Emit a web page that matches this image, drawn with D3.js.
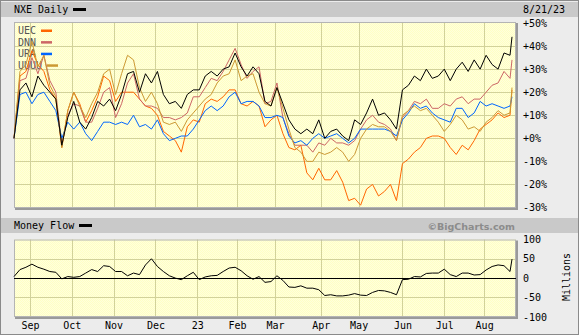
<!DOCTYPE html>
<html>
<head>
<meta charset="utf-8">
<script src="https://cdn.jsdelivr.net/npm/d3@7"></script>
<style>
  body { margin: 0; background: #ececec; }
  svg text { font-family: "DejaVu Sans Mono", monospace; font-size: 10px; fill: #000; }
</style>
</head>
<body>
<svg id="chart" width="579" height="335"></svg>
<script>
// trading-day index of each sample (every 3rd session, plus the last one)
const sampleDays = d3.range(0, 250, 3).concat([250]);

// % change since 8/22/22
const nxe = [0, 21, 24, 18, 27, 23, 20, 17, -3, 9, 16, 7, 4, 9, 16, 14, 17, 12, 19, 28,
  29, 20, 28, 24, 29, 19, 15, 16, 13, 19, 21, 21, 27, 29, 27, 30, 31, 37, 31, 27,
  31, 28, 16, 14, 22, 15, 8, 4, 2, 4, 2, 8, 0, 3, 4, 1, -1, 8, 6, 11,
  17, 10, 11, 8, 4, 21, 23, 27, 25, 30, 26, 27, 30, 25, 30, 33, 29, 34, 30, 36,
  32, 30, 37, 36, 44];
const uec = [0, 27, 29, 38, 32, 29, 21, 17, -4, 12, 20, 15, 7, 12, 18, 27, 25, 16, 20, 20,
  20, 17, 14, 13, 10, 3, 1, -1, -6, 5, 8, 7, 15, 17, 16, 18, 21, 21, 15, 14,
  16, 14, 5, 8, 10, 2, -4, -5, -3, -15, -18, -13, -18, -18, -14, -19, -27, -26, -29, -22,
  -20, -25, -23, -20, -27, -11, -9, -6, -4, 0, 1, 1, 0, -4, -7, -3, -5, -1, 4, 6,
  8, 11, 9, 10, 21];
const dnn = [0, 25, 26, 35, 28, 36, 25, 20, -3, 10, 15, 14, 7, 7, 13, 20, 22, 9, 15, 24,
  28, 17, 14, 14, 13, 9, 9, 8, 9, 11, 18, 18, 22, 26, 25, 29, 34, 39, 32, 26,
  29, 31, 15, 16, 24, 9, 2, -3, -3, -3, -6, -2, -3, 0, -2, -2, -3, -1, 4, 8,
  10, 7, 6, 4, -1, 9, 12, 16, 15, 17, 13, 13, 15, 14, 17, 18, 15, 17, 17, 20,
  23, 24, 29, 26, 34];
const ura = [0, 19, 20, 15, 19, 20, 16, 12, 0, 7, 4, 7, 2, -1, 3, 7, 7, 6, 7, 6,
  10, 5, 6, 4, 8, 2, -1, 0, 1, 1, 4, 8, 12, 14, 12, 14, 18, 20, 15, 16,
  16, 14, 9, 9, 10, 9, 1, -2, -1, -3, 0, 2, 0, 1, 2, 0, -2, 0, 4, 4,
  4, 4, 4, 3, 1, 8, 11, 15, 13, 14, 11, 9, 8, 7, 13, 13, 9, 11, 16, 14,
  15, 14, 13, 14, 18];
const uuuu = [0, 29, 32, 42, 31, 36, 23, 18, -4, 12, 20, 14, 9, 15, 20, 28, 30, 19, 28, 36,
  34, 22, 16, 20, 15, 7, 6, 7, 3, 8, 11, 14, 17, 19, 24, 27, 28, 34, 25, 27,
  28, 20, 15, 14, 22, 13, 4, -4, -6, -10, -10, -6, -7, -6, -4, -6, -10, -7, 0, 4,
  6, 5, 5, 3, -1, 10, 12, 14, 12, 13, 10, 7, 3, 6, 10, 8, 4, 5, 3, 7,
  9, 12, 10, 11, 22];

// money flow, millions
const moneyFlow = [4, 22, 28, 36, 28, 23, 17, 15, -2, 4, 2, 4, 13, 22, 17, 32, 30, 17, 17, 6,
  13, 9, 34, 50, 30, 17, 6, 0, -4, 6, 15, -4, 3, 6, 7, 17, 26, 28, 19, 6,
  -3, 4, -11, -9, 6, -6, -23, -24, -20, -26, -26, -30, -45, -43, -46, -46, -44, -40, -44, -45,
  -37, -32, -33, -37, -43, -4, -3, 4, 3, 12, 13, 13, 23, 9, 4, 13, 13, 8, 9, 21,
  30, 34, 32, 17, 49];

const monthDays = [8, 29, 50, 71, 92, 112, 131, 154, 173, 195, 216, 236];
const monthLabels = ["Sep", "Oct", "Nov", "Dec", "23", "Feb", "Mar", "Apr", "May", "Jun", "Jul", "Aug"];
const pctTicks = [50, 40, 30, 20, 10, 0, -10, -20, -30];
const flowTicks = [100, 50, 0, -50, -100];

const series = [
  { name: "UEC", values: uec, color: "#ff6600" },
  { name: "DNN", values: dnn, color: "#cc6666" },
  { name: "URA", values: ura, color: "#0066ff" },
  { name: "UUUU", values: uuuu, color: "#cc9933" }
];

const svg = d3.select("#chart");
const plot = { left: 14, right: 516 };
const main = { top: 22, bottom: 208 };
const lower = { top: 239.5, bottom: 317 };

const x = d3.scaleLinear().domain([0, 251]).range([14, 514]);
const y = d3.scaleLinear().domain([-30, 50]).range([207.5, 23]);
const yFlow = d3.scaleLinear().domain([-100, 100]).range([316.8, 239.4]);

// dithered yellow fill
const pat = svg.append("defs").append("pattern")
  .attr("id", "dither").attr("width", 2).attr("height", 2)
  .attr("patternUnits", "userSpaceOnUse");
pat.append("rect").attr("width", 2).attr("height", 2).attr("fill", "#ffffdc");
pat.append("rect").attr("width", 1).attr("height", 1).attr("fill", "#ffffc4");
pat.append("rect").attr("x", 1).attr("y", 1).attr("width", 1).attr("height", 1).attr("fill", "#ffffc4");

// frame
svg.append("rect").attr("x", 0.5).attr("y", 0.5).attr("width", 578).attr("height", 334)
  .attr("fill", "#ececec").attr("stroke", "#8a8a8a");

// header bands
svg.append("rect").attr("x", 1).attr("y", 2).attr("width", 577).attr("height", 15).attr("fill", "#c9c9c9");
svg.append("rect").attr("x", 1).attr("y", 218).attr("width", 577).attr("height", 15).attr("fill", "#c9c9c9");

svg.append("text").attr("x", 14).attr("y", 13).text("NXE Daily");
svg.append("rect").attr("x", 73).attr("y", 8).attr("width", 13).attr("height", 3).attr("fill", "#000");
svg.append("text").attr("x", 523).attr("y", 13).text("8/21/23");

svg.append("text").attr("x", 14).attr("y", 229).text("Money Flow");
svg.append("rect").attr("x", 79).attr("y", 224).attr("width", 13).attr("height", 3).attr("fill", "#000");
svg.append("text").attr("x", 515).attr("y", 229.5)
  .attr("text-anchor", "end")
  .style("font-family", "'DejaVu Sans', sans-serif")
  .style("font-weight", "bold").style("font-size", "9.5px").style("fill", "#8c8c8c")
  .text("\u00A9BigCharts.com");

function panel(top, bottom, yScale, hTicks) {
  const g = svg.append("g");
  g.append("rect")
    .attr("x", plot.left).attr("y", top)
    .attr("width", plot.right - plot.left).attr("height", bottom - top)
    .attr("fill", "url(#dither)");
  g.selectAll(".vgrid").data(monthDays).join("line")
    .attr("x1", (d) => Math.round(x(d)) + 0.5).attr("x2", (d) => Math.round(x(d)) + 0.5)
    .attr("y1", top).attr("y2", bottom)
    .attr("stroke", "#d2d29a").attr("stroke-width", 1);
  g.selectAll(".hgrid").data(hTicks).join("line")
    .attr("x1", plot.left).attr("x2", plot.right)
    .attr("y1", (d) => Math.round(yScale(d)) + 0.5).attr("y2", (d) => Math.round(yScale(d)) + 0.5)
    .attr("stroke", "#d2d29a").attr("stroke-width", 1);
  // border with shadow on bottom and right
  g.append("rect")
    .attr("x", plot.left + 0.5).attr("y", top + 0.5)
    .attr("width", plot.right - plot.left - 1).attr("height", bottom - top - 1)
    .attr("fill", "none").attr("stroke", "#b4b4b4");
  g.append("path")
    .attr("d", `M${plot.left + 1},${bottom + 1}H${plot.right + 1}V${top + 1}`)
    .attr("fill", "none").attr("stroke", "#9a9a9a").attr("stroke-width", 2);
  return g;
}

// ---- main panel ----
panel(main.top, main.bottom, y, pctTicks.slice(1, -1));

const legend = svg.append("g");
series.forEach((s, i) => {
  const ty = 34 + i * 11.6;
  legend.append("text").attr("x", 18).attr("y", ty).style("fill", "#555").text(s.name);
  legend.append("rect")
    .attr("x", 18 + s.name.length * 6 + 5).attr("y", ty - 4.5)
    .attr("width", 11).attr("height", 2.5).attr("fill", s.color);
});

const line = d3.line().x((d, i) => x(sampleDays[i])).y((d) => y(d));
svg.selectAll(".series").data(series).join("path")
  .attr("class", "series")
  .attr("d", (d) => line(d.values))
  .attr("fill", "none").attr("stroke", (d) => d.color).attr("stroke-width", 1);
svg.append("path").attr("d", line(nxe))
  .attr("fill", "none").attr("stroke", "#000").attr("stroke-width", 1);

const yAxis = svg.append("g")
  .attr("transform", `translate(${plot.right},0)`)
  .call(d3.axisRight(y).tickValues(pctTicks).tickSize(0).tickPadding(7)
    .tickFormat((d) => (d >= 0 ? "+" : "") + d + "%"));
yAxis.select(".domain").remove();
yAxis.selectAll("text").style("font-family", "'DejaVu Sans Mono', monospace").style("font-size", "10px").attr("fill", "#000");

// ---- money flow panel ----
panel(lower.top, lower.bottom, yFlow, [50, -50]);

svg.append("line")
  .attr("x1", plot.left).attr("x2", plot.right)
  .attr("y1", Math.round(yFlow(0)) + 0.5).attr("y2", Math.round(yFlow(0)) + 0.5)
  .attr("stroke", "#000").attr("stroke-width", 1);

const flowLine = d3.line().x((d, i) => x(sampleDays[i])).y((d) => yFlow(d));
svg.append("path").attr("d", flowLine(moneyFlow))
  .attr("fill", "none").attr("stroke", "#000").attr("stroke-width", 1);

const fAxis = svg.append("g")
  .attr("transform", `translate(${plot.right},0)`)
  .call(d3.axisRight(yFlow).tickValues(flowTicks).tickSize(0).tickPadding(7).tickFormat((d) => d));
fAxis.select(".domain").remove();
fAxis.selectAll("text").style("font-family", "'DejaVu Sans Mono', monospace").style("font-size", "10px").attr("fill", "#000");

svg.append("text")
  .attr("transform", "translate(570,277) rotate(-90)")
  .attr("text-anchor", "middle")
  .text("Millions");

const xAxis = svg.append("g")
  .attr("transform", `translate(0,${lower.bottom})`)
  .call(d3.axisBottom(x).tickValues(monthDays).tickSize(0).tickPadding(5)
    .tickFormat((d, i) => monthLabels[i]));
xAxis.select(".domain").remove();
xAxis.selectAll("text").style("font-family", "'DejaVu Sans Mono', monospace").style("font-size", "10px").attr("fill", "#000");
</script>
</body>
</html>
